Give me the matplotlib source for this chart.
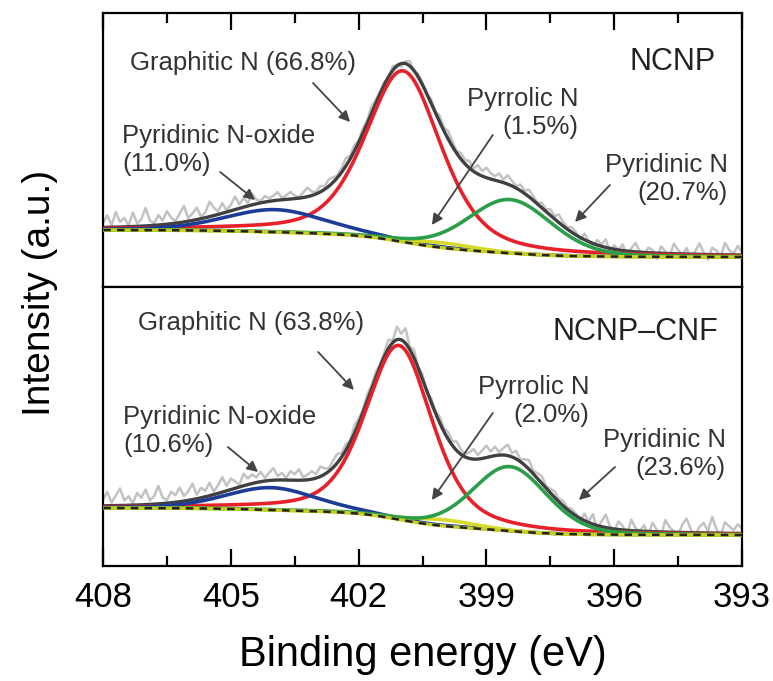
import numpy as np
import matplotlib
matplotlib.use("Agg")
import matplotlib.pyplot as plt

plt.rcParams['font.family'] = ['Liberation Sans', 'DejaVu Sans']

# componentes del ajuste N1s (orden: grafitico, N-oxido, pirrolico, piridinico)
nombres = ["Graphitic N", "Pyridinic N-oxide", "Pyrrolic N", "Pyridinic N"]
colores = ["#e8202a", "#1c3c98", "#d9d92a", "#2a9e48"]

muestras = ["NCNP", "NCNP\u2013CNF"]
porcentajes = [[66.8, 11.0, 1.5, 20.7],
               [63.8, 10.6, 2.0, 23.6]]
centros = [[400.95, 403.95, 400.0, 398.45],
           [401.05, 404.05, 400.0, 398.45]]
anchos = [[2.1, 2.8, 1.8, 2.3],
          [1.85, 2.55, 1.8, 2.05]]
etas = [0.45, 0.3, 0.2, 0.2]   # fraccion lorentziana de cada componente
area_total = [695, 652]
fondo_alto = [27, 27]   # fondo tipo Shirley del lado de alta energia

# ruido del espectro medido, de 408.0 a 393.0 eV cada 0.1 eV
resid_ncnp = [4, 12, 2, 15, 5, 9, 1, 14, 3, 7, 18, 5, 2, 10, 4, 13, 6, 2, 9, 16,
              3, 7, 12, 2, 5, 15, 8, 3, 10, 2, 6, 13, 4, 9, 3, 11,
              4, 2, 6, 3, 5, 8, 2, 4, 7, 3, 1, 5, 9, 4, 2, 6, 3, 7, 5, 2,
              4, 8, 3, 6, 2, 5, 3, 7, 4, 2,
              3, -2, 4, 1, -3, 2, 5, -1, 3, 2, -2, 4, 1, 6, 3, 8, 5, 2, 6, 4,
              7, 3, 9, 5, 10, 6, 4, 8, 3, 9, 5, 2, 6, 3, 7, 4, 1, 5, 2, 6,
              3, 8, 4, 2, 5,
              3, -2, 6, 1, -4, 5, 2, 8, -3, 4, 0, 6, -5, 3, 9, 1, -2, 5, 3, -6,
              7, 2, -3, 10, 4, -1, 6, -4, 3, 11, 2, -5, 7, 4, -2, 12, 5, 1, 9, 3]
resid_cnf = [6, 14, 3, 10, 17, 5, 9, 2, 12, 7, 15, 4, 8, 18, 6, 3, 11, 7, 14, 5,
             9, 16, 4, 10, 6, 13, 3, 8, 15, 5, 11, 7, 2, 12, 6, 9,
             5, 10, 3, 8, 12, 4, 7, 2, 9, 6, 11, 3, 5, 8, 4, 10, 6, 3, 7, 9,
             4, 6, 2, 8, 5, 3, 7, 4, 6, 2,
             4, 9, 2, 13, 6, 15, 3, 8, 1, 5, -2, 4, 2, 6, 3, 7, 4, 9, 5, 3,
             6, 10, 4, 8, 12, 5, 9, 3, 7, 11, 4, 8, 2, 6, 9, 3, 5, 7, 2, 4,
             6, 3, 5, 2, 4,
             2, -3, 7, 1, 10, -4, 5, 13, 2, -2, 8, 4, -5, 11, 3, 0, 6, -3, 9, 2,
             -4, 12, 5, 1, -2, 8, 14, 3, -3, 6, 10, 2, 16, 4, -2, 11, 7, 3, 9, 5]
residuos = [resid_ncnp, resid_cnf]

# etiquetas: (texto, posicion texto, inicio flecha, punta de flecha, alineacion)
etiquetas = [
    [("Graphitic N (66.8%)", (407.37, 194), (403.07, 174), (402.2, 135), "left"),
     ("Pyridinic N-oxide\n(11.0%)", (407.55, 107), (405.25, 85), (404.43, 57), "left"),
     ("Pyrrolic N\n(1.5%)", (396.83, 144), (398.85, 122), (400.28, 32), "right"),
     ("Pyridinic N\n(20.7%)", (393.33, 78), (396.1, 72), (396.92, 35), "right")],
    [("Graphitic N (63.8%)", (407.18, 212), (402.95, 183), (402.11, 145), "left"),
     ("Pyridinic N-oxide\n(10.6%)", (407.53, 104), (405.07, 88), (404.36, 63), "left"),
     ("Pyrrolic N\n(2.0%)", (396.59, 134), (398.85, 122), (400.28, 35), "right"),
     ("Pyridinic N\n(23.6%)", (393.38, 81), (395.98, 68), (396.83, 35), "right")],
]
titulo_pos = [(393.63, 195), (393.56, 203)]
limites_y = [(-30, 244), (-31, 248)]


def pico(x, c, w, area, eta):
    # pseudo-Voigt normalizado por area
    g = np.exp(-4 * np.log(2) * ((x - c) / w) ** 2)
    l = 1 / (1 + (2 * (x - c) / w) ** 2)
    factor = w * (eta * np.pi / 2 + (1 - eta) * np.sqrt(np.pi / (4 * np.log(2))))
    return area / factor * (eta * l + (1 - eta) * g)


def shirley(x, picos, alto):
    suma = np.sum(picos, axis=0)
    # x va de menor a mayor energia
    acum = np.concatenate([[0], np.cumsum((suma[1:] + suma[:-1]) / 2 * np.diff(x))])
    return alto * acum / acum[-1]


x = np.linspace(393, 408, 1501)
x_raw = np.round(np.arange(408.0, 392.95, -0.1), 1)

fig = plt.figure(figsize=(7.73, 6.81), dpi=100)
ax_top = fig.add_axes([103 / 773, 1 - 287 / 681, 639 / 773, 274 / 681])
ax_bot = fig.add_axes([103 / 773, 1 - 566 / 681, 639 / 773, 279 / 681], sharex=ax_top)

for k, ax in enumerate([ax_top, ax_bot]):
    areas = [p / 100 * area_total[k] for p in porcentajes[k]]
    picos = [pico(x, c, w, a, e) for c, w, a, e in zip(centros[k], anchos[k], areas, etas)]
    fondo = shirley(x, picos, fondo_alto[k])
    envolvente = fondo + np.sum(picos, axis=0)

    medido = np.interp(x_raw, x, envolvente) + np.array(residuos[k])
    ax.plot(x_raw, medido, color="#c2c2c2", lw=1.8, zorder=1)
    ax.plot(x, envolvente, color="#404040", lw=2.4, zorder=2)
    for p, col in zip(picos, colores):
        ax.plot(x, fondo + p, color=col, lw=2.6, zorder=3)
    ax.plot(x, fondo, color="#c8d020", lw=2.4, zorder=4)
    ax.plot(x, fondo, color="#222222", lw=1.8, ls=(0, (3, 2.5)), zorder=5)

    for texto, pos, ini, fin, al in etiquetas[k]:
        ax.text(pos[0], pos[1], texto, ha=al, va="center", multialignment=al,
                fontsize=18.5, color="#333333")
        ax.annotate("", xy=fin, xytext=ini,
                    arrowprops=dict(arrowstyle="-|>", color="#444444", lw=1.3,
                                    mutation_scale=16, shrinkA=0, shrinkB=0))
    ax.text(titulo_pos[k][0], titulo_pos[k][1], muestras[k], ha="right",
            va="center", fontsize=22, color="#222222")

    ax.set_ylim(*limites_y[k])
    ax.set_yticks([])
    for s in ax.spines.values():
        s.set_linewidth(1.6)

ax_top.set_xlim(408, 393)
ax_top.set_xticks(np.arange(408, 392, -3))
ax_top.set_xticks(np.arange(406.5, 393, -3), minor=True)

ax_top.tick_params(axis="x", which="both", direction="in", top=True, bottom=False,
                   labeltop=False, labelbottom=False, width=1.6)
ax_bot.tick_params(axis="x", which="both", direction="in", top=False, bottom=True,
                   labelbottom=True, width=1.6)
for ax in [ax_top, ax_bot]:
    ax.tick_params(axis="x", which="major", length=12)
    ax.tick_params(axis="x", which="minor", length=7)
ax_bot.tick_params(axis="x", which="major", labelsize=25, pad=11)

ax_bot.set_xlabel("Binding energy (eV)", fontsize=30)
ax_bot.xaxis.set_label_coords(0.5, -0.319)
ax_bot.xaxis.label.set_va("center")

fig.text(40 / 773, 1 - 293 / 681, "Intensity (a.u.)", rotation=90, ha="center",
         va="center", fontsize=28)

fig.savefig("out.png", dpi=100)
